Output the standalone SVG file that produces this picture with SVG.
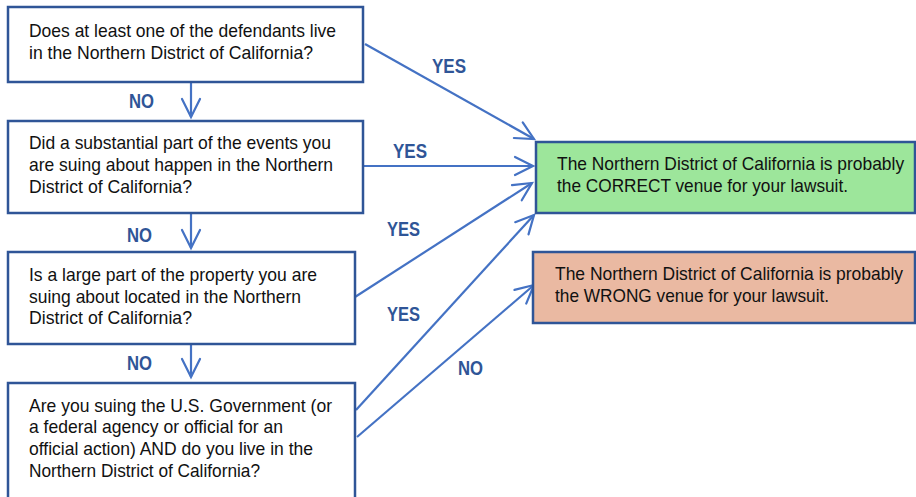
<svg xmlns="http://www.w3.org/2000/svg" width="916" height="497" viewBox="0 0 916 497">
<defs>
<style>
.box{fill:#ffffff;stroke:#2f5597;stroke-width:2.5}
.ok{fill:#9de69b;stroke:#2f5597;stroke-width:2.5}
.bad{fill:#eab9a2;stroke:#2f5597;stroke-width:2.5}
.t{font-family:"Liberation Sans",Arial,sans-serif;font-size:18.5px;fill:#111111}
.lbl{font-family:"Liberation Sans",Arial,sans-serif;font-size:20.5px;font-weight:bold;fill:#2f5597}
.c{stroke:#4472c4;stroke-width:2.2;fill:none;marker-end:url(#ah)}
</style>
<marker id="ah" markerUnits="userSpaceOnUse" markerWidth="20" markerHeight="20" viewBox="0 0 20 20" refX="19" refY="10" orient="auto" overflow="visible">
<path d="M1,1 L19,10 L1,19" fill="none" stroke="#4472c4" stroke-width="2.2" stroke-linecap="round"/>
</marker>
</defs>
<rect width="916" height="497" fill="#ffffff"/>

<g id="connectors">
<line class="c" x1="365" y1="44" x2="534" y2="139"/>
<line class="c" x1="363" y1="166" x2="533" y2="166"/>
<line class="c" x1="355" y1="297" x2="532" y2="183"/>
<line class="c" x1="356" y1="410" x2="534" y2="215"/>
<line class="c" x1="357" y1="437" x2="534" y2="285"/>
<line class="c" x1="191" y1="83" x2="191" y2="117"/>
<line class="c" x1="191" y1="214" x2="191" y2="248"/>
<line class="c" x1="191" y1="345" x2="191" y2="377"/>
<text class="lbl" x="432" y="73" textLength="34" lengthAdjust="spacingAndGlyphs">YES</text>
<text class="lbl" x="393" y="158" textLength="34" lengthAdjust="spacingAndGlyphs">YES</text>
<text class="lbl" x="387" y="236" textLength="33" lengthAdjust="spacingAndGlyphs">YES</text>
<text class="lbl" x="387" y="321" textLength="33" lengthAdjust="spacingAndGlyphs">YES</text>
<text class="lbl" x="458" y="375" textLength="25" lengthAdjust="spacingAndGlyphs">NO</text>
<text class="lbl" x="129" y="108" textLength="25" lengthAdjust="spacingAndGlyphs">NO</text>
<text class="lbl" x="127" y="242" textLength="25" lengthAdjust="spacingAndGlyphs">NO</text>
<text class="lbl" x="127" y="370" textLength="25" lengthAdjust="spacingAndGlyphs">NO</text>
</g>

<g id="q1">
<rect class="box" x="8" y="7" width="355" height="75"/>
<text class="t" x="29" y="37" textLength="307" lengthAdjust="spacingAndGlyphs">Does at least one of the defendants live</text>
<text class="t" x="29" y="59" textLength="284" lengthAdjust="spacingAndGlyphs">in the Northern District of California?</text>
</g>

<g id="q2">
<rect class="box" x="8" y="121" width="355" height="92"/>
<text class="t" x="29" y="149" textLength="302" lengthAdjust="spacingAndGlyphs">Did a substantial part of the events you</text>
<text class="t" x="29" y="171" textLength="304" lengthAdjust="spacingAndGlyphs">are suing about happen in the Northern</text>
<text class="t" x="29" y="193" textLength="163" lengthAdjust="spacingAndGlyphs">District of California?</text>
</g>

<g id="q3">
<rect class="box" x="8" y="252" width="347" height="92"/>
<text class="t" x="29" y="281" textLength="288" lengthAdjust="spacingAndGlyphs">Is a large part of the property you are</text>
<text class="t" x="29" y="303" textLength="272" lengthAdjust="spacingAndGlyphs">suing about located in the Northern</text>
<text class="t" x="29" y="324" textLength="163" lengthAdjust="spacingAndGlyphs">District of California?</text>
</g>

<g id="q4">
<rect class="box" x="8" y="383" width="347" height="125"/>
<text class="t" x="29" y="412" textLength="303" lengthAdjust="spacingAndGlyphs">Are you suing the U.S. Government (or</text>
<text class="t" x="29" y="433" textLength="254" lengthAdjust="spacingAndGlyphs">a federal agency or official for an</text>
<text class="t" x="29" y="455" textLength="284" lengthAdjust="spacingAndGlyphs">official action) AND do you live in the</text>
<text class="t" x="29" y="477" textLength="231" lengthAdjust="spacingAndGlyphs">Northern District of California?</text>
</g>

<g id="correct">
<rect class="ok" x="536" y="142" width="379" height="71"/>
<g transform="translate(557,0) scale(0.89,1)">
<text class="t" x="0" y="170" textLength="390" lengthAdjust="spacingAndGlyphs">The Northern District of California is probably</text>
<text class="t" x="0" y="192" textLength="327" lengthAdjust="spacingAndGlyphs">the CORRECT venue for your lawsuit.</text>
</g>
</g>

<g id="wrong">
<rect class="bad" x="533" y="252" width="382" height="71"/>
<g transform="translate(555,0) scale(0.89,1)">
<text class="t" x="0" y="280" textLength="391" lengthAdjust="spacingAndGlyphs">The Northern District of California is probably</text>
<text class="t" x="0" y="302" textLength="308" lengthAdjust="spacingAndGlyphs">the WRONG venue for your lawsuit.</text>
</g>
</g>
</svg>
